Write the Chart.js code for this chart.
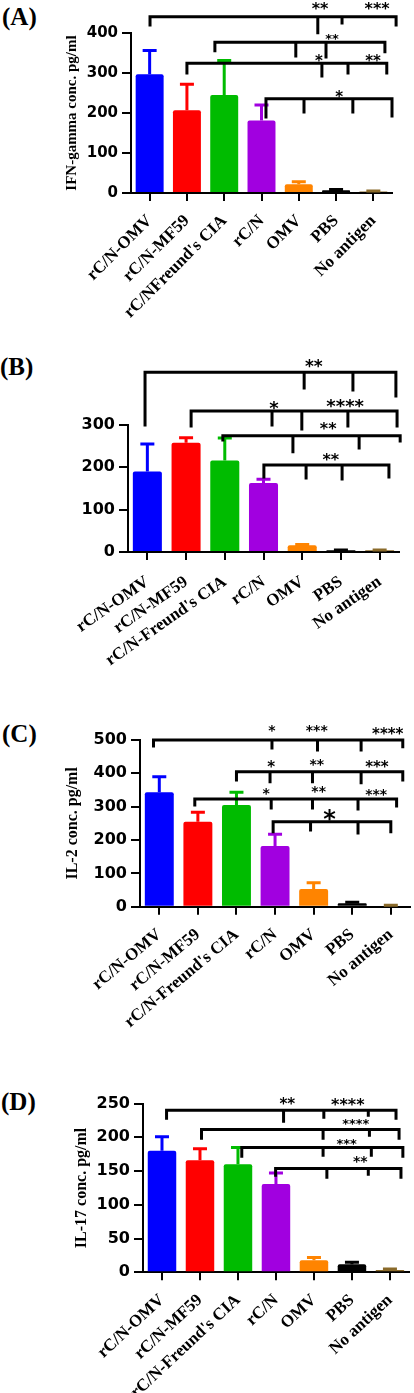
<!DOCTYPE html>
<html>
<head>
<meta charset="utf-8">
<script src="https://cdn.jsdelivr.net/npm/chart.js@4.4.0/dist/chart.umd.min.js"></script>
<style>
body{margin:0;background:#fff;width:414px;height:1393px;position:relative;overflow:hidden}
.panel{position:absolute;left:0}
.tag{position:absolute;font:bold 25px "Liberation Serif",serif;line-height:25px;color:#000}
</style>
</head>
<body>
<div class="tag" style="left:2px;top:4px">(A)</div>
<div class="tag" style="left:0px;top:354px">(B)</div>
<div class="tag" style="left:2px;top:721px">(C)</div>
<div class="tag" style="left:1px;top:1089px">(D)</div>
<canvas class="panel" id="chartA" width="414" height="325" style="top:0px"></canvas>
<canvas class="panel" id="chartB" width="414" height="335" style="top:340px"></canvas>
<canvas class="panel" id="chartC" width="414" height="320" style="top:720px"></canvas>
<canvas class="panel" id="chartD" width="414" height="303" style="top:1090px"></canvas>
<script>
// groups
var groupsA = ['rC/N-OMV', 'rC/N-MF59', "rC/NFreund's CIA", 'rC/N', 'OMV', 'PBS', 'No antigen'];
var groups = ['rC/N-OMV', 'rC/N-MF59', "rC/N-Freund's CIA", 'rC/N', 'OMV', 'PBS', 'No antigen'];

// (A) IFN-gamma
var ifnMean = [297, 207, 245, 181, 22, 7, 4];
var ifnErr = [59, 65, 86, 39, 6, 2, 1];
var yTicksA = [0, 100, 200, 300, 400];

// (B)
var bMean = [190, 258, 216, 163, 16, 4, 4];
var bErr = [65, 12, 53, 9, 2, 1, 1];
var yTicksB = [0, 100, 200, 300];

// (C) IL-2
var il2Mean = [343, 255, 305, 182, 53, 10, 3];
var il2Err = [47, 28, 38, 35, 19, 3, 1];
var yTicksC = [0, 100, 200, 300, 400, 500];

// (D) IL-17
var il17Mean = [180, 166, 160, 131, 18, 12, 3.5];
var il17Err = [21, 17, 25, 16, 4, 3, 1.5];
var yTicksD = [0, 50, 100, 150, 200, 250];

var barColors = ['#0000ff', '#ff0000', '#00bb00', '#a100e0', '#ff8400', '#000000', '#8a6a2a'];

// significance brackets: level (y value), drops [category index, bottom value], stars [index, value, text, size]
var sigA = [
    {level: 440.8, drops: [[0.01, 420], [4.51, 400.8], [5.16, 425], [6.61, 420]], stars: [[4.57, 470, '**', 16], [6.10, 470, '***', 16]]},
    {level: 376.8, drops: [[1.75, 355.8], [3.92, 342.5], [4.73, 340], [6.31, 353.3]], stars: [[4.89, 395, '**', 13]]},
    {level: 324.3, drops: [[1.0, 300], [4.62, 292.5], [5.32, 300], [6.36, 300]], stars: [[4.54, 340, '*', 15], [5.99, 340, '**', 15]]},
    {level: 235.8, drops: [[3.12, 190], [4.14, 202.5], [5.45, 202.5], [6.50, 192.5]], stars: [[5.08, 250, '*', 15]]}
];
var sigB = [
    {level: 424.5, drops: [[-0.06, 300], [4.05, 387.4], [5.31, 382.7], [6.42, 368.5]], stars: [[4.30, 449.6, '**', 17]]},
    {level: 333.1, drops: [[1.13, 297.7], [3.22, 300], [3.99, 290.6], [5.18, 297.7], [6.45, 297.7]], stars: [[3.27, 349.6, '*', 18], [5.11, 354.4, '****', 18]]},
    {level: 274.7, drops: [[1.95, 264.6], [3.76, 236.9], [5.47, 245.7], [6.53, 262.2]], stars: [[4.67, 300, '**', 16]]},
    {level: 205.5, drops: [[3.01, 177.2], [4.10, 174.8], [5.03, 172.5], [6.24, 177.2]], stars: [[4.74, 226.8, '**', 16]]}
];
var sigC = [
    {level: 500, drops: [[-0.15, 482], [2.92, 476], [4.10, 470], [5.23, 470], [6.31, 480]], stars: [[2.92, 540, '*', 14], [4.08, 539, '***', 14], [5.92, 530, '****', 15]]},
    {level: 405, drops: [[2.0, 380], [2.87, 375], [3.97, 375], [5.23, 372], [6.31, 380]], stars: [[2.90, 431, '*', 15], [4.08, 438, '**', 14], [5.64, 431, '***', 15]]},
    {level: 323, drops: [[0.92, 305], [2.90, 296], [3.97, 296], [5.15, 293], [6.15, 302]], stars: [[2.77, 350, '*', 14], [4.13, 356, '**', 14], [5.62, 347, '***', 14]]},
    {level: 255, drops: [[2.95, 225], [3.92, 230], [5.15, 221], [6.0, 225]], stars: [[4.41, 282, '*', 24]]}
];
var sigD = [
    {level: 240.1, drops: [[0.12, 228.3], [3.20, 223.8], [4.26, 229.7], [5.43, 232.7], [6.16, 228.3]], stars: [[3.30, 254.9, '**', 15], [4.89, 253.8, '****', 16]]},
    {level: 211.5, drops: [[1.04, 198.6], [4.24, 198.6], [5.46, 203], [6.24, 198.6]], stars: [[5.10, 225.3, '****', 13]]},
    {level: 184.9, drops: [[2.10, 172], [4.24, 173.5], [5.51, 173.5], [6.34, 172]], stars: [[4.86, 195.7, '***', 13]]},
    {level: 153.8, drops: [[2.99, 143.9], [4.34, 141], [5.43, 145.4], [6.29, 141]], stars: [[5.22, 169.1, '**', 14]]}
];

var extrasPlugin = {
    id: 'extras',
    afterDatasetsDraw: function (chart) {
        var ctx = chart.ctx;
        var ys = chart.scales.y;
        var meta = chart.getDatasetMeta(0);
        var ds = chart.data.datasets[0];
        ctx.save();
        ctx.lineWidth = 3;
        meta.data.forEach(function (bar, i) {
            var top = ys.getPixelForValue(ds.data[i] + ds.err[i]);
            ctx.strokeStyle = barColors[i];
            ctx.beginPath();
            ctx.moveTo(bar.x, bar.y);
            ctx.lineTo(bar.x, top);
            ctx.moveTo(bar.x - 7, top);
            ctx.lineTo(bar.x + 7, top);
            ctx.stroke();
        });
        ctx.restore();
    },
    afterDraw: function (chart) {
        var ctx = chart.ctx;
        var xs = chart.scales.x, ys = chart.scales.y;
        var sig = chart.options.sig || [];
        ctx.save();
        ctx.strokeStyle = '#000';
        ctx.fillStyle = '#000';
        ctx.lineWidth = 3;
        ctx.lineCap = 'square';
        sig.forEach(function (b) {
            var yl = ys.getPixelForValue(b.level);
            var xsd = b.drops.map(function (d) { return xs.getPixelForValue(d[0]); });
            ctx.beginPath();
            ctx.moveTo(Math.min.apply(null, xsd), yl);
            ctx.lineTo(Math.max.apply(null, xsd), yl);
            b.drops.forEach(function (d, k) {
                ctx.moveTo(xsd[k], yl);
                ctx.lineTo(xsd[k], ys.getPixelForValue(d[1]));
            });
            ctx.stroke();
            ctx.textAlign = 'center';
            ctx.textBaseline = 'alphabetic';
            b.stars.forEach(function (s) {
                ctx.font = 'bold ' + s[3] + 'px "DejaVu Sans"';
                ctx.fillText(s[2], xs.getPixelForValue(s[0]), ys.getPixelForValue(s[1]) + s[3] * 0.58);
            });
        });
        ctx.restore();
    }
};

function makeChart(id, p) {
    var canvas = document.getElementById(id);
    return new Chart(canvas, {
        type: 'bar',
        data: {
            labels: p.labels,
            datasets: [{
                data: p.mean,
                err: p.err,
                backgroundColor: barColors,
                borderRadius: 2,
                borderSkipped: 'bottom',
                barPercentage: 0.75,
                categoryPercentage: 1
            }]
        },
        options: {
            responsive: false,
            animation: false,
            sig: p.sig,
            layout: {padding: {left: 0, top: p.top, right: 414 - p.right, bottom: 0}},
            plugins: {legend: {display: false}, tooltip: {enabled: false}},
            scales: {
                x: {
                    grid: {drawOnChartArea: false, offset: false, tickLength: 8, color: '#000', lineWidth: 2},
                    border: {display: true, color: '#000', width: 2},
                    ticks: {
                        autoSkip: false, minRotation: p.rot, maxRotation: p.rot, padding: p.labelPad, color: '#000',
                        font: {family: '"Liberation Serif", serif', weight: 'bold', size: 17}
                    },
                    afterFit: function (s) { s.height = canvas.height - p.bottom; }
                },
                y: {
                    min: 0,
                    max: p.ticks[p.ticks.length - 1],
                    afterBuildTicks: function (s) { s.ticks = p.ticks.map(function (v) { return {value: v}; }); },
                    grid: {drawOnChartArea: false, tickLength: 9, color: '#000', lineWidth: 2},
                    border: {display: true, color: '#000', width: 2},
                    ticks: {padding: 4, color: '#000', font: {family: '"DejaVu Sans"', weight: 'bold', size: p.yFont}},
                    title: {
                        display: !!p.title, text: p.title, color: '#000',
                        font: {family: '"Liberation Serif", serif', weight: 'bold', size: p.titleSize},
                        padding: {top: p.titleX - p.titleSize * 0.6, bottom: 0}
                    },
                    afterFit: function (s) { s.width = p.left; }
                }
            }
        },
        plugins: [extrasPlugin]
    });
}

makeChart('chartA', {labels: groupsA, mean: ifnMean, err: ifnErr, ticks: yTicksA, sig: sigA,
    left: 131, right: 392, top: 33, bottom: 193, rot: 45, labelPad: 10, yFont: 15,
    title: 'IFN-gamma conc. pg/ml', titleSize: 15, titleX: 72});
makeChart('chartB', {labels: groups, mean: bMean, err: bErr, ticks: yTicksB, sig: sigB,
    left: 128, right: 399, top: 85, bottom: 212, rot: 35, labelPad: 12, yFont: 16,
    title: '', titleSize: 15, titleX: 72});
makeChart('chartC', {labels: groups, mean: il2Mean, err: il2Err, ticks: yTicksC, sig: sigC,
    left: 140, right: 413, top: 20, bottom: 186.7, rot: 40, labelPad: 10, yFont: 16,
    title: 'IL-2 conc. pg/ml', titleSize: 16, titleX: 73});
makeChart('chartD', {labels: groups, mean: il17Mean, err: il17Err, ticks: yTicksD, sig: sigD,
    left: 143, right: 412, top: 13.3, bottom: 182.3, rot: 43, labelPad: 10, yFont: 16,
    title: 'IL-17 conc. pg/ml', titleSize: 16, titleX: 82});
</script>
</body>
</html>
